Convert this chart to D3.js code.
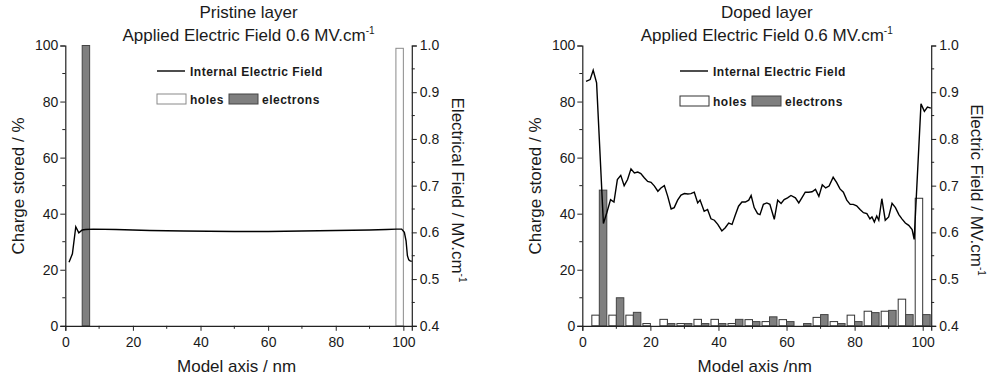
<!DOCTYPE html>
<html><head><meta charset="utf-8">
<script src="https://cdn.jsdelivr.net/npm/d3@7"></script>
<style>body{margin:0;background:#fff} svg{display:block;font-family:"Liberation Sans",Arial,sans-serif}</style>
</head><body><svg id="c" width="987" height="381"></svg>
<script>
// ---------- DATA ----------
const binCenters = [5,10,15,20,25,30,35,40,45,50,55,60,65,70,75,80,85,90,95,100];
const pristineHoles     = [0,0,0,0,0,0,0,0,0,0,0,0,0,0,0,0,0,0,0,99];
const pristineElectrons = [100,0,0,0,0,0,0,0,0,0,0,0,0,0,0,0,0,0,0,0];
const dopedHoles     = [3.8,3.8,3.8,0.8,2.3,0.8,2.3,2.3,0.8,2.2,1.5,2.2,0,3,1.5,3.8,5.2,5.2,9.5,45.5];
const dopedElectrons = [48.4,10,4.8,0,0.8,0.8,0.8,0.8,2.3,1.5,3.2,1.5,0.8,4,0.8,1.5,4.7,5.5,4,4];

const pristineFieldX = [1.1,2.1,3.1,4.0,5.0,6.0,8.3,15,25,35,50,60,70,80,90,95,98,99.5,100.3,100.8,101.2,101.6,102,102.5];
const pristineFieldY = [0.536,0.554,0.612,0.599,0.605,0.606,0.607,0.606,0.604,0.603,0.602,0.602,0.603,0.604,0.605,0.606,0.607,0.607,0.600,0.582,0.550,0.541,0.539,0.538];

const dopedFieldX = [1.1,2.3,3.2,4.2,6.2,7.2,8.3,9.3,10.3,11.3,12.3,13.3,14.3,15.3,16.3,17.2,18.2,19.2,20.2,21.2,22.2,23.1,24.1,25.1,26.1,27.0,28.0,29.0,30.0,31.0,31.9,32.9,33.9,34.6,35.8,36.8,37.8,38.8,39.8,41.0,42.0,43.0,44.0,44.9,45.9,46.9,47.9,48.9,49.6,50.5,51.5,52.2,53.2,54.2,55.1,56.4,57.4,58.4,59.3,60.3,61.3,62.6,63.6,64.5,65.5,66.5,67.5,68.5,69.5,70.5,71.5,72.5,73.7,74.7,75.7,76.7,77.7,78.7,79.6,80.6,81.6,82.6,83.6,84.5,85.1,85.8,86.5,87.1,88.0,89.0,90.0,91.0,92.0,93.0,93.9,94.9,95.9,96.9,97.5,99.5,100.5,101.4,102.4];
const dopedFieldY = [0.923,0.927,0.947,0.920,0.619,0.642,0.670,0.665,0.713,0.722,0.700,0.713,0.736,0.727,0.729,0.726,0.717,0.709,0.707,0.699,0.688,0.695,0.700,0.677,0.650,0.653,0.669,0.680,0.683,0.682,0.683,0.686,0.663,0.669,0.645,0.649,0.629,0.626,0.617,0.603,0.610,0.620,0.617,0.636,0.656,0.665,0.665,0.669,0.679,0.653,0.640,0.638,0.660,0.663,0.660,0.628,0.669,0.662,0.670,0.674,0.679,0.674,0.663,0.674,0.686,0.686,0.687,0.692,0.677,0.702,0.695,0.699,0.718,0.707,0.693,0.686,0.669,0.660,0.660,0.657,0.649,0.642,0.640,0.629,0.633,0.622,0.635,0.626,0.672,0.626,0.633,0.662,0.653,0.638,0.629,0.620,0.615,0.606,0.585,0.875,0.859,0.868,0.866];

const xTicks = [0,20,40,60,80,100];
const xMinor = [10,30,50,70,90];
const yTicks = [0,20,40,60,80,100];
const yMinor = [10,30,50,70,90];
const y2Ticks = [0.4,0.5,0.6,0.7,0.8,0.9,1.0];
const y2Minor = [0.45,0.55,0.65,0.75,0.85,0.95];

const panels = [
  {title:"Pristine layer", xLabel:"Model axis / nm", y2Label:"Electrical Field / MV.cm",
   x0:65.3, x1:411.8, holes:pristineHoles, electrons:pristineElectrons,
   fx:pristineFieldX, fy:pristineFieldY, holeStroke:"#8a8a8a",
   legX:157, legLineY:71, legBoxY:94},
  {title:"Doped layer", xLabel:"Model axis /nm", y2Label:"Electric Field / MV.cm",
   x0:582.3, x1:931.2, holes:dopedHoles, electrons:dopedElectrons,
   fx:dopedFieldX, fy:dopedFieldY, holeStroke:"#333",
   legX:680, legLineY:71, legBoxY:96}
];

const svg = d3.select("#c");
const yTop = 45.5, yBot = 325.8;
const barW = 2.2;
const textCol = "#1a1a1a";

panels.forEach(p => {
  const g = svg.append("g");
  const x = d3.scaleLinear().domain([0,102.5]).range([p.x0,p.x1]);
  const y = d3.scaleLinear().domain([0,100]).range([yBot,yTop]);
  const y2 = d3.scaleLinear().domain([0.4,1.0]).range([yBot,yTop]);

  // bars
  binCenters.forEach((c,i) => {
    const h = p.holes[i], e = p.electrons[i];
    if (h > 0) g.append("rect").attr("x",x(c-barW)).attr("width",x(c)-x(c-barW))
      .attr("y",y(h)).attr("height",y(0)-y(h))
      .attr("fill","#fff").attr("stroke",p.holeStroke).attr("stroke-width",1);
    if (e > 0) g.append("rect").attr("x",x(c)).attr("width",x(c+barW)-x(c))
      .attr("y",y(e)).attr("height",y(0)-y(e))
      .attr("fill","#7f7f7f").attr("stroke","#444").attr("stroke-width",1);
  });

  // line
  const pts = p.fx.map((v,i)=>[v,p.fy[i]]);
  g.append("path").datum(pts)
    .attr("d", d3.line().x(d=>x(d[0])).y(d=>y2(d[1])))
    .attr("fill","none").attr("stroke","#000").attr("stroke-width",1.4);

  // axes
  const ax = g.append("g").attr("transform",`translate(0,${yBot})`)
    .call(d3.axisBottom(x).tickValues(xTicks).tickSize(5).tickPadding(6).tickFormat(d3.format("d")));
  const ay = g.append("g").attr("transform",`translate(${p.x0},0)`)
    .call(d3.axisLeft(y).tickValues(yTicks).tickSize(5).tickPadding(2).tickFormat(d3.format("d")));
  const ay2 = g.append("g").attr("transform",`translate(${p.x1},0)`)
    .call(d3.axisRight(y2).tickValues(y2Ticks).tickSize(5).tickPadding(3).tickFormat(d3.format(".1f")));
  [ax,ay,ay2].forEach(a => {
    a.select(".domain").attr("stroke","#222").attr("stroke-width",1.2);
    a.selectAll(".tick line").attr("stroke","#222").attr("stroke-width",1);
    a.selectAll(".tick text").attr("font-size",14).attr("fill",textCol)
      .attr("font-family","Liberation Sans, Arial, sans-serif");
  });
  // minor ticks
  xMinor.forEach(v => g.append("line").attr("x1",x(v)).attr("x2",x(v)).attr("y1",yBot).attr("y2",yBot+3).attr("stroke","#222"));
  yMinor.forEach(v => g.append("line").attr("x1",p.x0).attr("x2",p.x0-3).attr("y1",y(v)).attr("y2",y(v)).attr("stroke","#222"));
  y2Minor.forEach(v => g.append("line").attr("x1",p.x1).attr("x2",p.x1+3).attr("y1",y2(v)).attr("y2",y2(v)).attr("stroke","#222"));

  // titles
  const cx = (p.x0 + p.x1)/2 + 10;
  g.append("text").attr("x",cx).attr("y",18).attr("text-anchor","middle")
    .attr("font-size",17).attr("fill",textCol).text(p.title);
  const t2 = g.append("text").attr("x",cx).attr("y",41).attr("text-anchor","middle")
    .attr("font-size",17).attr("fill",textCol);
  t2.append("tspan").text("Applied Electric Field 0.6 MV.cm");
  t2.append("tspan").attr("dy",-7).attr("font-size",10).text("-1");

  // axis titles
  g.append("text").attr("x",(p.x0+p.x1)/2 - 2).attr("y",372).attr("text-anchor","middle")
    .attr("font-size",17).attr("fill",textCol).text(p.xLabel);
  g.append("text").attr("transform",`translate(${p.x0-41},186) rotate(-90)`)
    .attr("text-anchor","middle").attr("font-size",17).attr("fill",textCol).text("Charge stored / %");
  const r = g.append("text").attr("transform",`translate(${p.x1+40},190) rotate(90)`)
    .attr("text-anchor","middle").attr("font-size",17).attr("fill",textCol);
  r.append("tspan").text(p.y2Label);
  r.append("tspan").attr("dy",-7).attr("font-size",10).text("-1");

  // legend
  const lx = p.legX;
  g.append("line").attr("x1",lx).attr("x2",lx+28).attr("y1",p.legLineY).attr("y2",p.legLineY)
    .attr("stroke","#000").attr("stroke-width",1.4);
  g.append("text").attr("x",lx+33).attr("y",p.legLineY+4.5).attr("font-size",12).attr("font-weight","bold")
    .attr("letter-spacing",0.5).attr("fill",textCol).text("Internal Electric Field");
  g.append("rect").attr("x",lx).attr("y",p.legBoxY).attr("width",29).attr("height",10)
    .attr("fill","#fff").attr("stroke",p.holeStroke);
  g.append("text").attr("x",lx+33).attr("y",p.legBoxY+9.5).attr("font-size",12).attr("font-weight","bold")
    .attr("letter-spacing",0.5).attr("fill",textCol).text("holes");
  g.append("rect").attr("x",lx+72).attr("y",p.legBoxY).attr("width",29).attr("height",10)
    .attr("fill","#7f7f7f").attr("stroke","#444");
  g.append("text").attr("x",lx+105).attr("y",p.legBoxY+9.5).attr("font-size",12).attr("font-weight","bold")
    .attr("letter-spacing",0.5).attr("fill",textCol).text("electrons");
});
</script></body></html>
